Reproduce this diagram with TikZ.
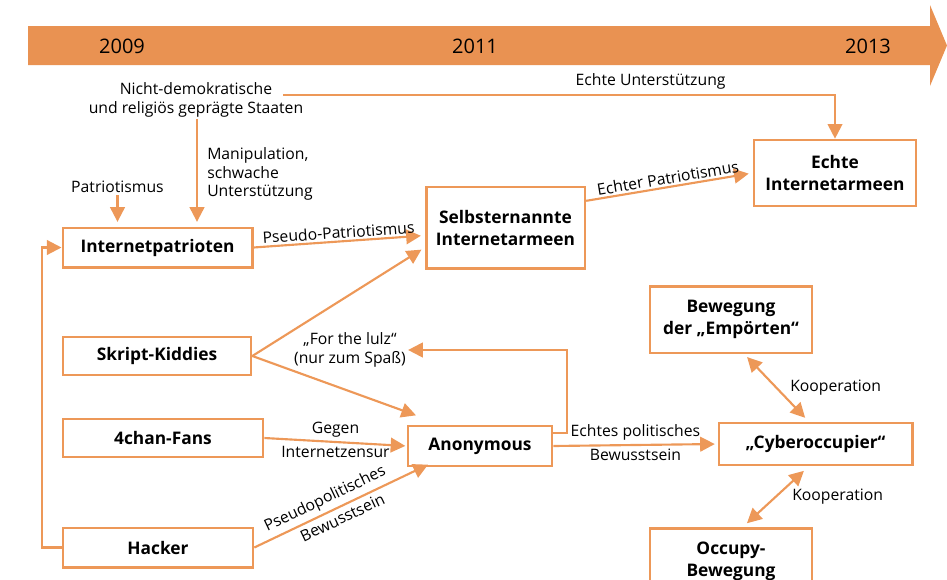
\documentclass[tikz,border=0pt]{standalone}
\usepackage{fontspec}
\setmainfont{Open Sans}
\usetikzlibrary{arrows.meta, positioning, calc}

\definecolor{bandorange}{RGB}{233,146,82}
\definecolor{lineorange}{RGB}{237,152,88}

\begin{document}
\begin{tikzpicture}[x=0.75pt, y=-0.75pt,
  box/.style={draw=lineorange, line width=2pt, fill=white, align=center, inner sep=2pt,
    font=\fontsize{13}{16.5}\selectfont\bfseries},
  lbl/.style={font=\fontsize{11.8}{14}\selectfont, align=center, inner sep=1.5pt},
  yearlbl/.style={font=\fontsize{15}{18}\selectfont},
  arr/.style={draw=lineorange, line width=1.6pt, -{Triangle[length=11pt, width=11pt]}},
  dblarr/.style={draw=lineorange, line width=1.6pt,
    {Triangle[length=11pt, width=11pt]}-{Triangle[length=11pt, width=11pt]}},
]
  \useasboundingbox (0,0) rectangle (947,579);
  \clip (0,0) rectangle (947,579);

  % Zeitstrahl
  \fill[bandorange] (28,26) -- (930,26) -- (930,5) -- (947,45.5) -- (930,86)
    -- (930,65) -- (28,65) -- cycle;
  \foreach \x/\yr in {122/2009, 475/2011, 868/2013}{
    \node[yearlbl] (y\yr) at (\x,46) {\yr};
  }

  % Kaesten
  \node[box, minimum width=142pt, minimum height=29.5pt] (patrioten) at (157.5,247.5) {Internetpatrioten};
  \node[box, minimum width=141pt, minimum height=28.5pt] (skript) at (157,356) {Skript-Kiddies};
  \node[box, minimum width=150pt, minimum height=28.5pt] (fans) at (163,438) {4chan-Fans};
  \node[box, minimum width=142.5pt, minimum height=29.5pt] (hacker) at (158,547.5) {Hacker};
  \node[box, minimum width=119pt, minimum height=61pt] (selbst) at (505.5,227.5) {Selbsternannte\\Internetarmeen};
  \node[box, minimum width=121.5pt, minimum height=49.5pt] (echte) at (835,173) {Echte\\Internetarmeen};
  \node[box, minimum width=108pt, minimum height=30pt] (anon) at (480,446) {Anonymous};
  \node[box, minimum width=145pt, minimum height=31.5pt] (cyber) at (815.5,444) {„Cyberoccupier“};
  \node[box, minimum width=121.5pt, minimum height=50pt] (empoert) at (731,319.5) {Bewegung\\der „Empörten“};
  \node[box, minimum width=121.5pt, minimum height=50pt] (occupy) at (731,561.5) {Occupy-\\Bewegung};

  % freie Beschriftungen
  \node[lbl] (staaten) at (196,100) {Nicht-demokratische\\und religiös geprägte Staaten};
  \node[lbl] (patlbl) at (117.5,187) {Patriotismus};
  \node[lbl, anchor=west, align=left] (maniplbl) at (205,174) {Manipulation,\\schwache\\Unterstützung};
  \node[lbl] (lulz) at (350,350) {„For the lulz“\\(nur zum Spaß)};
  \coordinate (ustart) at (283,95);

  % Verbindungen
  \draw[arr, shorten >=3.5pt] (patlbl) -- (patlbl |- patrioten.north);
  \draw[arr, shorten >=3.5pt] (staaten.south -| 197,0) -- (197,0 |- patrioten.north);
  \draw[arr] (ustart) -| node[lbl, pos=0.333, above=2pt] {Echte Unterstützung} (echte.north);
  \draw[arr, shorten >=3pt] (patrioten.east) -- node[lbl, sloped, above] {Pseudo-Patriotismus} ([yshift=-6pt]selbst.west);
  \draw[arr, shorten >=3pt] (skript.east) -- ([yshift=-15pt]selbst.west);
  \draw[arr] (skript.east) -- ([xshift=7pt, yshift=7pt]anon.north west);
  \draw[arr, shorten >=1pt] (fans.east) -- node[lbl, above=1pt] {Gegen} node[lbl, below=1pt] {Internetzensur} (anon.west);
  \draw[arr] (hacker.east) -- node[lbl, sloped, above=1.5pt, pos=0.44] {Pseudopolitisches}
    node[lbl, sloped, below=1.5pt, pos=0.48] {Bewusstsein} ([xshift=16pt, yshift=2pt]anon.south west);
  \draw[arr] (hacker.west) -- ++(-20,0) |- (patrioten.west);
  \draw[arr] ([yshift=9.5pt]anon.east) -- ++(14,0) |- (lulz.east);
  \draw[arr, shorten >=2pt] (anon.east) -- node[lbl, above=1pt] {Echtes politisches} node[lbl, below=1pt] {Bewusstsein} (cyber.west);
  \draw[arr, shorten >=3pt] ([yshift=20pt]selbst.east) -- node[lbl, sloped, above] {Echter Patriotismus} (echte.west);
  \draw[dblarr, shorten <=3pt, shorten >=4pt] ([xshift=10pt]empoert.south) -- node[lbl, right, xshift=8pt] {Kooperation} ([xshift=-5pt]cyber.north);
  \draw[dblarr, shorten <=5pt, shorten >=4pt] ([xshift=-5pt]cyber.south) -- node[lbl, right, xshift=10pt] {Kooperation} ([xshift=9pt]occupy.north);
\end{tikzpicture}
\end{document}
